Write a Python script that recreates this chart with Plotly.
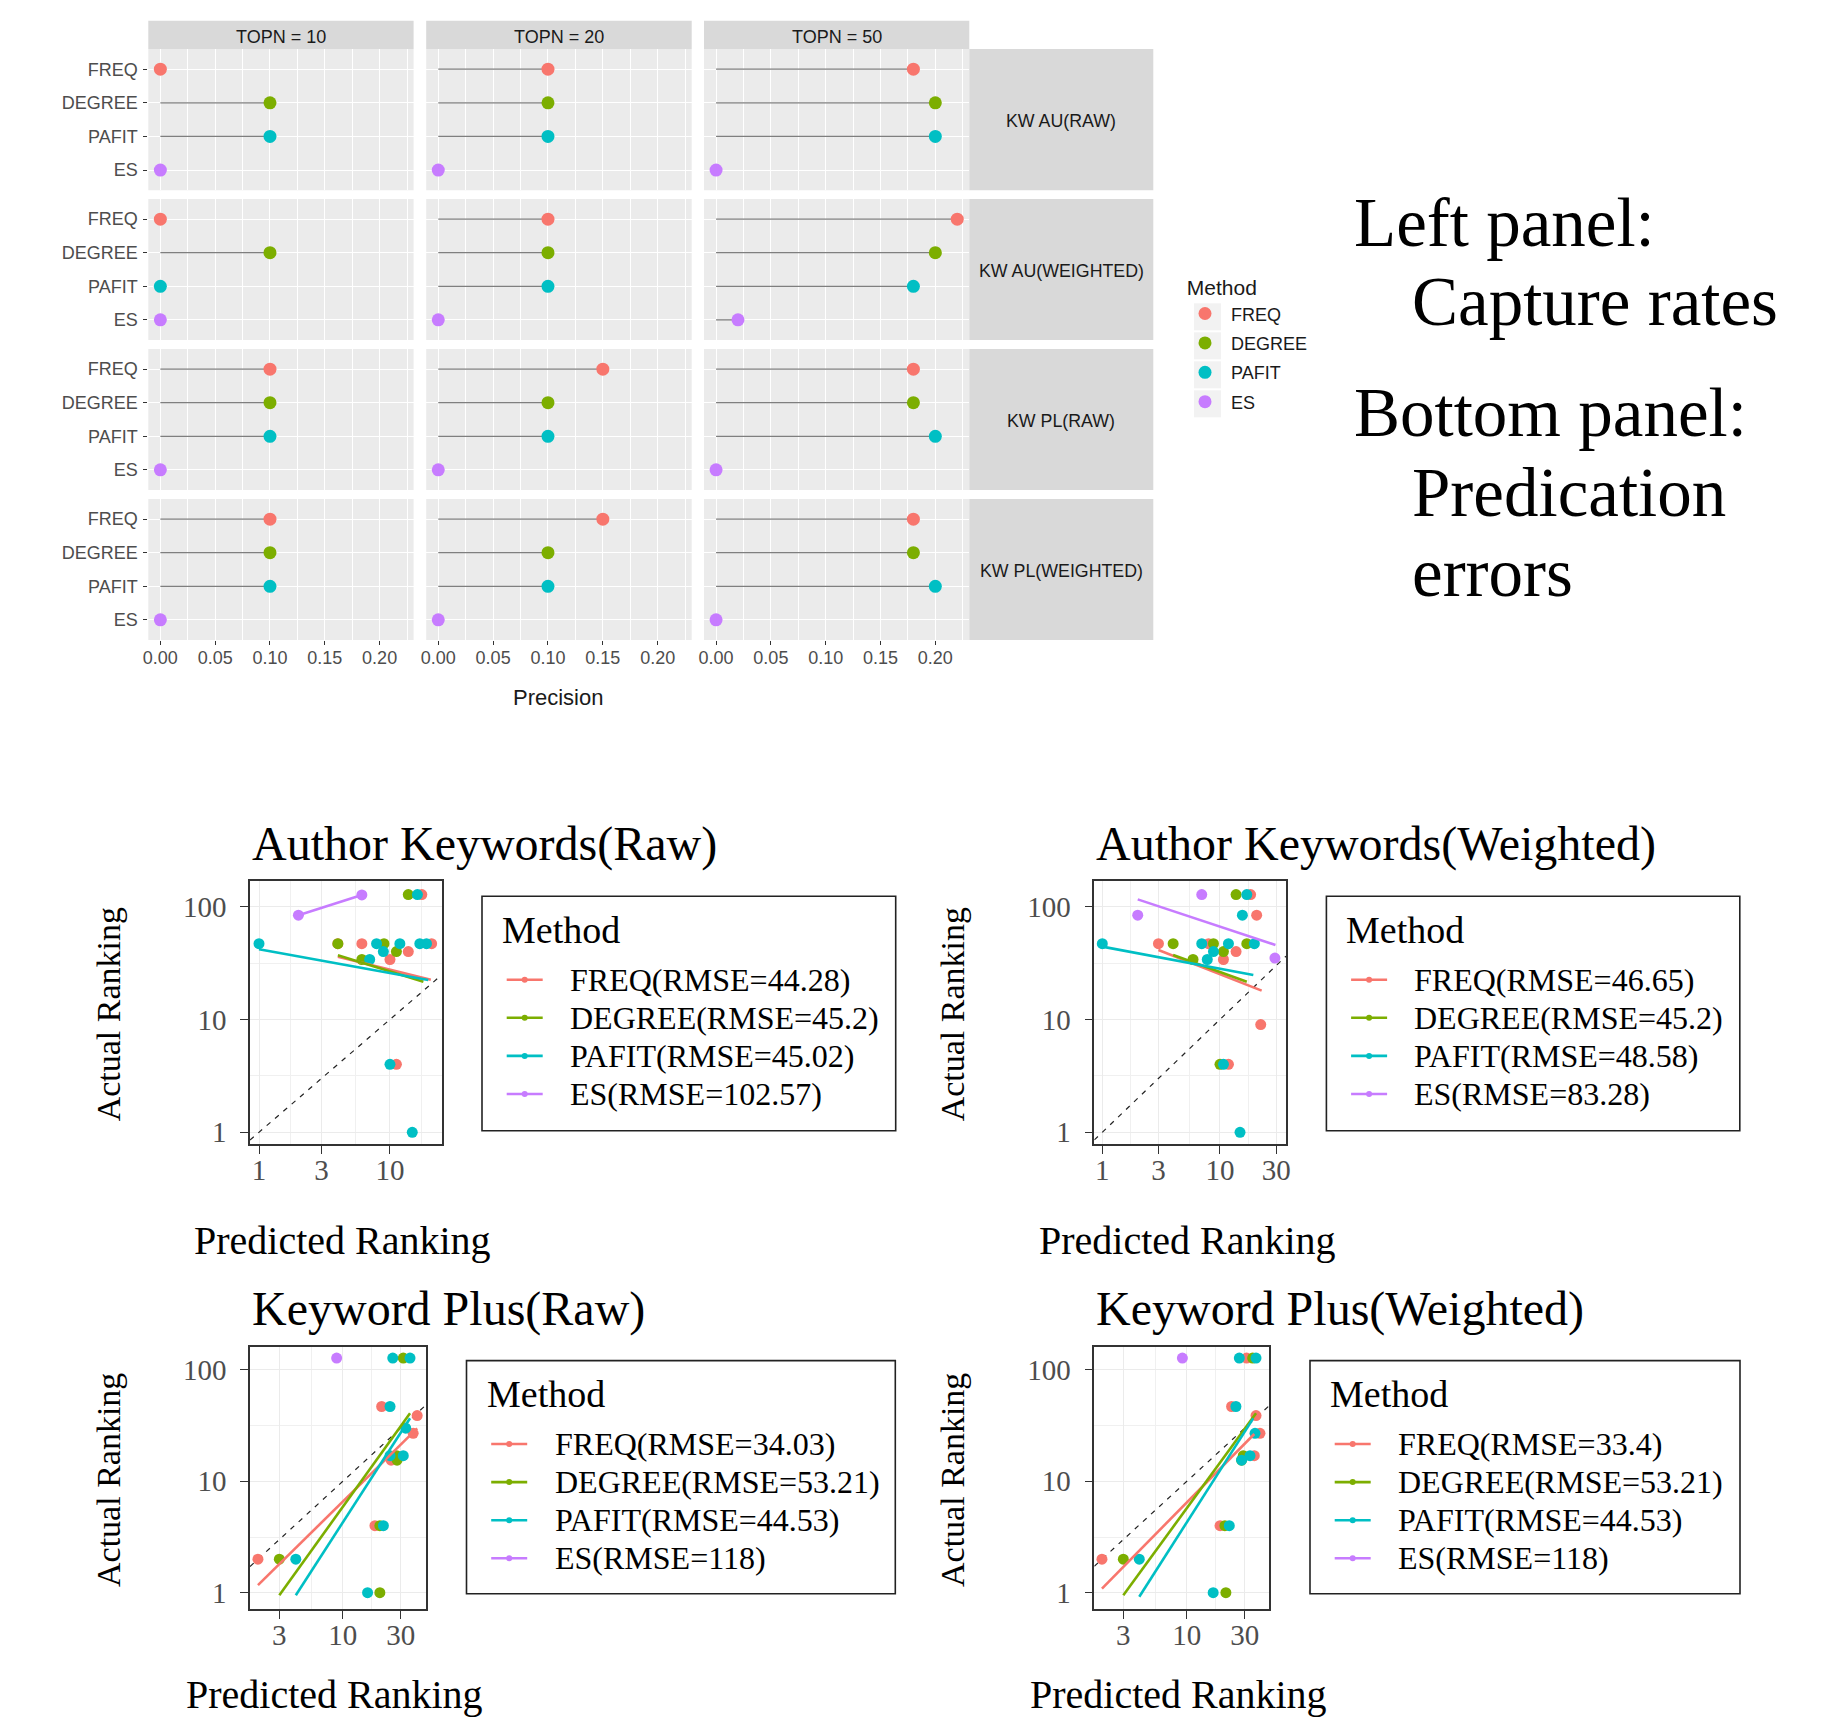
import plotly.graph_objects as go

# The page body has an 8px default margin, so figure pixels are offset by 8px on screen.
SCREEN_W, SCREEN_H = 1847, 1725
OFF = 8
FW, FH = SCREEN_W - 2 * OFF, SCREEN_H - 2 * OFF
def X(px):
    return (px - OFF) / FW
def Y(py):
    return 1 - (py - OFF) / FH

SANS = "Liberation Sans, Arial, sans-serif"
SERIF = "Liberation Serif, Times New Roman, serif"

# ---------------- data ----------------
methods = ["FREQ", "DEGREE", "PAFIT", "ES"]
colors = ["#F8766D", "#7CAE00", "#00BFC4", "#C77CFF"]

topn_labels = ["TOPN = 10", "TOPN = 20", "TOPN = 50"]
kw_labels = ["KW AU(RAW)", "KW AU(WEIGHTED)", "KW PL(RAW)", "KW PL(WEIGHTED)"]

# precision per TOPN (10, 20, 50); values in method order FREQ, DEGREE, PAFIT, ES
prec_au_raw = [[0.00, 0.10, 0.10, 0.00], [0.10, 0.10, 0.10, 0.00], [0.18, 0.20, 0.20, 0.00]]
prec_au_weighted = [[0.00, 0.10, 0.00, 0.00], [0.10, 0.10, 0.10, 0.00], [0.22, 0.20, 0.18, 0.02]]
prec_pl_raw = [[0.10, 0.10, 0.10, 0.00], [0.15, 0.10, 0.10, 0.00], [0.18, 0.18, 0.20, 0.00]]
prec_pl_weighted = [[0.10, 0.10, 0.10, 0.00], [0.15, 0.10, 0.10, 0.00], [0.18, 0.18, 0.20, 0.00]]

prec_ticks = [0.00, 0.05, 0.10, 0.15, 0.20]
prec_ticktext = ["0.00", "0.05", "0.10", "0.15", "0.20"]
prec_minor = [0.025, 0.075, 0.125, 0.175, 0.225]

# Author Keywords (Raw): predicted vs actual ranking
akr_pred = {"FREQ": [4, 17.5, 6.1, 20.8, 13.8, 10, 11.2],
            "DEGREE": [13.8, 4, 9, 11.2, 6.1],
            "PAFIT": [16.2, 1, 7.9, 11.9, 16.9, 19, 8.9, 7, 10, 14.8],
            "ES": [2, 6.1]}
akr_actual = {"FREQ": [47, 128, 47, 47, 40, 34, 4],
              "DEGREE": [128, 47, 47, 40, 34],
              "PAFIT": [128, 47, 47, 47, 47, 47, 40, 34, 4, 1],
              "ES": [84, 127]}
akr_fit_x = {"FREQ": [4, 20.5], "DEGREE": [4, 18], "PAFIT": [1, 19.6], "ES": [2, 6.1]}
akr_fit_y = {"FREQ": [36, 22.5], "DEGREE": [37, 21.6], "PAFIT": [41.9, 22.4], "ES": [84, 127]}
akr_labels = ["FREQ(RMSE=44.28)", "DEGREE(RMSE=45.2)", "PAFIT(RMSE=45.02)", "ES(RMSE=102.57)"]

# Author Keywords (Weighted)
akw_pred = {"FREQ": [18.2, 20.5, 3, 8, 10.7, 13.7, 22.2, 11.8],
            "DEGREE": [13.7, 4, 8.8, 16.9, 10.7, 5.9, 10],
            "PAFIT": [16.9, 15.5, 1, 7, 11.8, 19.6, 8.8, 7.8, 10.7, 14.8],
            "ES": [7, 2, 29.3]}
akw_actual = {"FREQ": [128, 84, 47, 47, 34, 40, 9, 4],
              "DEGREE": [128, 47, 47, 47, 40, 34, 4],
              "PAFIT": [128, 84, 47, 47, 47, 47, 40, 34, 4, 1],
              "ES": [128, 84, 35]}
akw_fit_x = {"FREQ": [3, 22.6], "DEGREE": [4, 16.9], "PAFIT": [1, 19.2], "ES": [2, 29.6]}
akw_fit_y = {"FREQ": [41.3, 18], "DEGREE": [37.3, 21.6], "PAFIT": [44.2, 24.8], "ES": [116, 45.7]}
akw_labels = ["FREQ(RMSE=46.65)", "DEGREE(RMSE=45.2)", "PAFIT(RMSE=48.58)", "ES(RMSE=83.28)"]

# Keyword Plus (Raw)
kpr_pred = {"FREQ": [2, 18.4, 20.9, 41, 38, 25],
            "DEGREE": [3, 20.2, 20.2, 31.5, 27.8, 28],
            "PAFIT": [4.1, 21.6, 16, 25.8, 35.8, 24.5, 31.5, 24.5, 33],
            "ES": [8.9]}
kpr_actual = {"FREQ": [2, 4, 47, 39, 27, 15.5],
              "DEGREE": [2, 4, 1, 128, 17, 15.5],
              "PAFIT": [2, 4, 1, 128, 128, 47, 17, 17, 30],
              "ES": [128]}
kpr_fit_x = {"FREQ": [2, 41], "DEGREE": [3, 35.8], "PAFIT": [4.1, 35.8]}
kpr_fit_y = {"FREQ": [1.17, 29.9], "DEGREE": [0.95, 40.8], "PAFIT": [0.95, 36.8]}
kpr_labels = ["FREQ(RMSE=34.03)", "DEGREE(RMSE=53.21)", "PAFIT(RMSE=44.53)", "ES(RMSE=118)"]

# Keyword Plus (Weighted)
kpw_pred = {"FREQ": [2, 18.8, 23.4, 31.1, 37.2, 40.1, 36],
            "DEGREE": [3, 20.6, 21, 34.9, 29.2, 28.3],
            "PAFIT": [4.06, 22.4, 16.5, 27.1, 37.2, 25.4, 36.5, 33.2, 28.3],
            "ES": [9.2]}
kpw_actual = {"FREQ": [2, 4, 47, 128, 39, 27, 17],
              "DEGREE": [2, 4, 1, 128, 17, 15.5],
              "PAFIT": [2, 4, 1, 128, 128, 47, 27, 17, 15.5],
              "ES": [128]}
kpw_fit_x = {"FREQ": [2, 36], "DEGREE": [3, 37.2], "PAFIT": [4.06, 35.3]}
kpw_fit_y = {"FREQ": [1.09, 26.6], "DEGREE": [0.95, 40.8], "PAFIT": [0.92, 36.8]}
kpw_labels = ["FREQ(RMSE=33.4)", "DEGREE(RMSE=53.21)", "PAFIT(RMSE=44.53)", "ES(RMSE=118)"]

bottom_titles = ["Author Keywords(Raw)", "Author Keywords(Weighted)",
                 "Keyword Plus(Raw)", "Keyword Plus(Weighted)"]
rank_ticks_y = [1, 10, 100]
rank_minor_y = [3.162, 31.62]
rank_minor_x = [1.732, 5.477, 17.32]

side_text = ["Left panel:", "Capture rates", "Bottom panel:", "Predication", "errors"]

# ---------------- figure ----------------
fig = go.Figure()
layout = dict(template="none", width=FW, height=FH, margin=dict(l=0, r=0, t=0, b=0, pad=0),
              paper_bgcolor="white", plot_bgcolor="rgba(0,0,0,0)", showlegend=True)
shapes = []
annotations = []

def ann(text, x, y, size, family, color="black", xanchor="center", yanchor="middle", angle=0):
    annotations.append(dict(text=text, x=X(x), y=Y(y), xref="paper", yref="paper",
                            showarrow=False, xanchor=xanchor, yanchor=yanchor, textangle=angle,
                            font=dict(size=size, family=family, color=color)))

# ---- top facet grid ----
col_x = [(148.3, 413.6), (426.2, 691.7), (704.0, 969.3)]
row_y = [(49.0, 190.3), (199.0, 340.0), (349.0, 490.0), (499.0, 640.0)]
prec_rows = [prec_au_raw, prec_au_weighted, prec_pl_raw, prec_pl_weighted]

for r in range(4):
    for c in range(3):
        idx = r * 3 + c + 1
        sfx = "" if idx == 1 else str(idx)
        xa, ya = "x" + sfx, "y" + sfx
        vals = prec_rows[r][c]
        sx, sy = [], []
        for m, v in zip(methods, vals):
            sx += [0, v, None]
            sy += [m, m, None]
        fig.add_trace(go.Scatter(x=sx, y=sy, mode="lines", line=dict(color="#7F7F7F", width=1.3),
                                 xaxis=xa, yaxis=ya, showlegend=False, hoverinfo="skip"))
        for m, v, col in zip(methods, vals, colors):
            fig.add_trace(go.Scatter(x=[v], y=[m], mode="markers", name=m, legendgroup=m,
                                     showlegend=(idx == 1), marker=dict(size=13, color=col),
                                     xaxis=xa, yaxis=ya))
        layout["xaxis" + sfx] = dict(
            domain=[X(col_x[c][0]), X(col_x[c][1])], anchor=ya, range=[-0.011, 0.231],
            tickvals=prec_ticks, ticktext=prec_ticktext, showticklabels=(r == 3),
            ticks="outside" if r == 3 else "", ticklen=4, tickwidth=1, tickcolor="#333333",
            tickfont=dict(family=SANS, size=18, color="#4D4D4D"), automargin=False,
            ticklabelstandoff=-3,
            showgrid=True, gridcolor="white", gridwidth=1.3, zeroline=False, showline=False,
            minor=dict(tickvals=prec_minor, showgrid=True, gridcolor="white", gridwidth=0.6))
        layout["yaxis" + sfx] = dict(
            domain=[Y(row_y[r][1]), Y(row_y[r][0])], anchor=xa, type="category",
            categoryorder="array", categoryarray=methods[::-1], range=[-0.6, 3.6],
            showticklabels=(c == 0), ticks="outside" if c == 0 else "", ticklen=4, tickwidth=1,
            tickcolor="#333333", tickfont=dict(family=SANS, size=18, color="#4D4D4D"),
            automargin=False, ticklabelstandoff=2,
            showgrid=True, gridcolor="white", gridwidth=1.3, zeroline=False, showline=False)
        shapes.append(dict(type="rect", xref=xa + " domain", yref=ya + " domain",
                           x0=0, x1=1, y0=0, y1=1, fillcolor="#EBEBEB",
                           line=dict(width=0), layer="below"))

# strips
for c in range(3):
    shapes.append(dict(type="rect", xref="paper", yref="paper", x0=X(col_x[c][0]), x1=X(col_x[c][1]),
                       y0=Y(49), y1=Y(20.7), fillcolor="#D9D9D9", line=dict(width=0), layer="below"))
    ann(topn_labels[c], (col_x[c][0] + col_x[c][1]) / 2, 37, 18, SANS, "#1A1A1A")
for r in range(4):
    shapes.append(dict(type="rect", xref="paper", yref="paper", x0=X(969.3), x1=X(1153.3),
                       y0=Y(row_y[r][1]), y1=Y(row_y[r][0]), fillcolor="#D9D9D9",
                       line=dict(width=0), layer="below"))
    ann(kw_labels[r], 1061.3, (row_y[r][0] + row_y[r][1]) / 2 + 1.5, 17.8, SANS, "#1A1A1A")

ann("Precision", 558, 697, 22, SANS, "#1A1A1A")

# top legend key backgrounds
for k in range(4):
    y0 = 303.3 + k * 29.0
    shapes.append(dict(type="rect", xref="paper", yref="paper", x0=X(1194), x1=X(1221),
                       y0=Y(y0 + 27), y1=Y(y0), fillcolor="#F2F2F2", line=dict(width=0), layer="below"))

layout["legend"] = dict(x=X(1179), y=Y(268), xanchor="left", yanchor="top",
                        bgcolor="rgba(0,0,0,0)", traceorder="grouped", tracegroupgap=3,
                        itemwidth=42,
                        font=dict(family=SANS, size=18, color="#1A1A1A"),
                        title=dict(text="\u00a0Method", font=dict(family=SANS, size=21, color="#1A1A1A")))

# side text
side_pos = [(1352, 246.7), (1410, 325), (1352, 436.7), (1410, 516.7), (1410, 596.7)]
for t, (sx_, sb) in zip(side_text, side_pos):
    ann(t, sx_, sb - 0.34 * 69, 69, SERIF, "black", xanchor="left")

# ---- bottom panels ----
panels = [
    dict(px=(250, 441.7), py=(880.7, 1144), xr=[-0.0687, 1.395], yr=[-0.104, 2.23], xt=[1, 3, 10]),
    dict(px=(1094.3, 1286), py=(880.7, 1144), xr=[-0.068, 1.561], yr=[-0.104, 2.23], xt=[1, 3, 10, 30]),
    dict(px=(250, 425.7), py=(1346.7, 1609.3), xr=[0.2355, 1.683], yr=[-0.149, 2.209], xt=[3, 10, 30]),
    dict(px=(1094.3, 1269.3), py=(1346.7, 1609.3), xr=[0.238, 1.680], yr=[-0.149, 2.209], xt=[3, 10, 30]),
]
pred_sets = [akr_pred, akw_pred, kpr_pred, kpw_pred]
act_sets = [akr_actual, akw_actual, kpr_actual, kpw_actual]
fitx_sets = [akr_fit_x, akw_fit_x, kpr_fit_x, kpw_fit_x]
fity_sets = [akr_fit_y, akw_fit_y, kpr_fit_y, kpw_fit_y]
label_sets = [akr_labels, akw_labels, kpr_labels, kpw_labels]
title_base = [860, 860, 1325, 1325]
xtitle_base = [1254, 1254, 1708, 1708]
legend_boxes = [(482, 896.3, 895.7, 1130.7), (1326.4, 896.3, 1739.8, 1130.7),
                (466.5, 1360.6, 895.3, 1593.8), (1310, 1360.6, 1740, 1593.8)]

for i, p in enumerate(panels):
    idx = 13 + i
    xa, ya = "x%d" % idx, "y%d" % idx
    # identity reference line
    lo, hi = 10 ** p["xr"][0], 10 ** p["xr"][1]
    fig.add_trace(go.Scatter(x=[lo, hi], y=[lo, hi], mode="lines",
                             line=dict(color="#222222", width=1.2, dash="5px,6px"),
                             xaxis=xa, yaxis=ya, showlegend=False, hoverinfo="skip"))
    for m, col, lab in zip(methods, colors, label_sets[i]):
        fig.add_trace(go.Scatter(x=pred_sets[i][m], y=act_sets[i][m], mode="markers", name=lab,
                                 marker=dict(size=11, color=col), xaxis=xa, yaxis=ya,
                                 showlegend=False))
    for m, col, lab in zip(methods, colors, label_sets[i]):
        if m in fitx_sets[i]:
            fig.add_trace(go.Scatter(x=fitx_sets[i][m], y=fity_sets[i][m], mode="lines", name=lab,
                                     line=dict(color=col, width=2.6), xaxis=xa, yaxis=ya,
                                     showlegend=False, hoverinfo="skip"))
    layout["xaxis%d" % idx] = dict(
        domain=[X(p["px"][0]), X(p["px"][1])], anchor=ya, type="log", range=p["xr"],
        tickvals=p["xt"], ticktext=[str(v) for v in p["xt"]], ticks="outside", ticklen=8,
        tickwidth=1.2, tickcolor="#333333", tickfont=dict(family=SERIF, size=29, color="#4D4D4D"),
        automargin=False, ticklabelstandoff=-9,
        showline=True, mirror=True, linecolor="#333333", linewidth=1.5,
        showgrid=True, gridcolor="#EBEBEB", gridwidth=1.3, zeroline=False,
        minor=dict(tickvals=rank_minor_x, showgrid=True, gridcolor="#F0F0F0", gridwidth=0.8))
    layout["yaxis%d" % idx] = dict(
        domain=[Y(p["py"][1]), Y(p["py"][0])], anchor=xa, type="log", range=p["yr"],
        tickvals=rank_ticks_y, ticktext=[str(v) for v in rank_ticks_y], ticks="outside", ticklen=8,
        tickwidth=1.2, tickcolor="#333333", tickfont=dict(family=SERIF, size=29, color="#4D4D4D"),
        ticklabelstandoff=8, automargin=False,
        showline=True, mirror=True, linecolor="#333333", linewidth=1.5,
        showgrid=True, gridcolor="#EBEBEB", gridwidth=1.3, zeroline=False,
        minor=dict(tickvals=rank_minor_y, showgrid=True, gridcolor="#F0F0F0", gridwidth=0.8))

    # titles
    ann(bottom_titles[i], p["px"][0], title_base[i] - 0.34 * 48, 48, SERIF, "black", xanchor="left")
    cx = (p["px"][0] + p["px"][1]) / 2
    ann("Predicted Ranking", cx - 3, xtitle_base[i] - 0.34 * 40, 40, SERIF, "black")
    cy = (p["py"][0] + p["py"][1]) / 2 + 2
    ann("Actual Ranking", 108 if i % 2 == 0 else 952, cy, 34, SERIF, "black", angle=-90)

    # legend box
    x0, y0, x1, y1 = legend_boxes[i]
    shapes.append(dict(type="rect", xref="paper", yref="paper", x0=X(x0), x1=X(x1), y0=Y(y1), y1=Y(y0),
                       line=dict(color="#222222", width=1.6), fillcolor="white", layer="above"))
    ann("Method", x0 + 18, y0 + 33.7, 38, SERIF, "black", xanchor="left")
    for k, (col, lab) in enumerate(zip(colors, label_sets[i])):
        ey = y0 + 83.4 + k * 38.1
        shapes.append(dict(type="line", xref="paper", yref="paper", x0=X(x0 + 24.7), x1=X(x0 + 60.7),
                           y0=Y(ey), y1=Y(ey), line=dict(color=col, width=2.6), layer="above"))
        shapes.append(dict(type="circle", xref="paper", yref="paper", x0=X(x0 + 39.7), x1=X(x0 + 45.7),
                           y0=Y(ey + 3), y1=Y(ey - 3), fillcolor=col, line=dict(width=0), layer="above"))
        ann(lab, x0 + 86, ey, 32, SERIF, "black", xanchor="left")

layout["shapes"] = shapes
layout["annotations"] = annotations
fig.update_layout(**layout)
fig.write_html("out.html")
